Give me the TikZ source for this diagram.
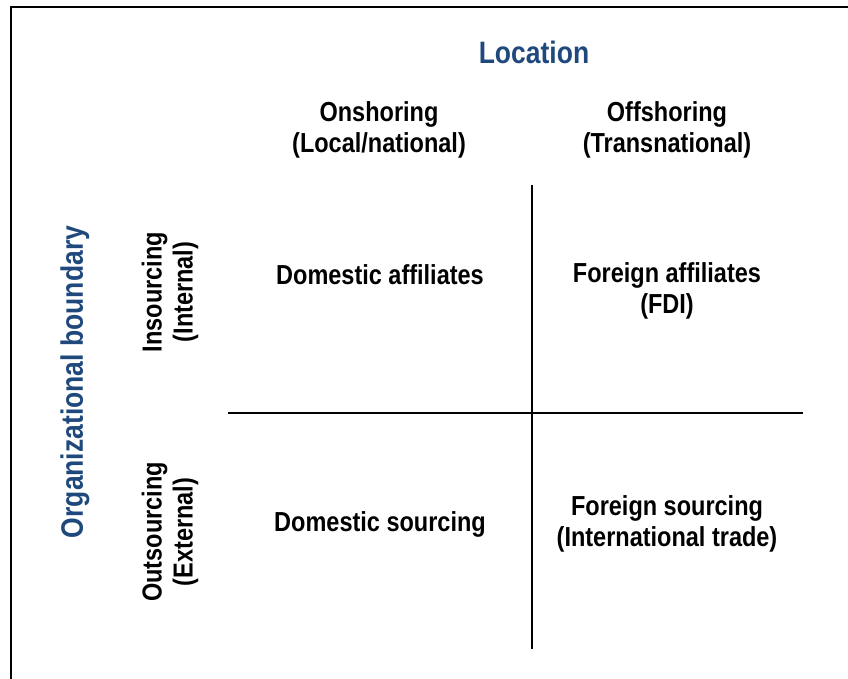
\documentclass[tikz,border=0pt]{standalone}
\usepackage{fontspec}
\setmainfont{Liberation Sans}
\definecolor{titleblue}{HTML}{1F497D}
\newcommand{\tl}[1]{\scalebox{1}[1.17]{#1}}
\begin{document}
\begin{tikzpicture}[x=1pt,y=-1pt,
  lbl/.style={font=\bfseries\fontsize{23.5}{31}\selectfont, align=center, inner sep=0pt, text=black},
  ttl/.style={font=\bfseries\fontsize{26.5}{31}\selectfont, inner sep=0pt, text=titleblue},
  grid/.style={line width=2pt, black},
  frame/.style={line width=2.5pt, black}]
\useasboundingbox (0,0) rectangle (848,679);
\coordinate (f0) at (11,679);
\coordinate (f1) at (11,7);
\coordinate (f2) at (848,7);
\draw[frame] (f0) -- (f1) -- (f2);
\node[ttl] (loc) at (534,52) {\tl{Location}};
\node[lbl] (on) at (379,129.5) {\tl{Onshoring}\\\tl{(Local/national)}};
\node[lbl] (off) at (667,129.5) {\tl{Offshoring}\\\tl{(Transnational)}};
\node[ttl, rotate=90] (org) at (75,382) {\tl{Organizational boundary}};
\node[lbl, rotate=90] (ins) at (170,292) {\tl{Insourcing}\\\tl{(Internal)}};
\node[lbl, rotate=90] (outs) at (170,532) {\tl{Outsourcing}\\\tl{(External)}};
\node[lbl] (da) at (380,275) {\tl{Domestic affiliates}};
\node[lbl] (fa) at (667,291) {\tl{Foreign affiliates}\\\tl{(FDI)}};
\node[lbl] (ds) at (380,524) {\tl{Domestic sourcing}};
\node[lbl] (fs) at (667,524) {\tl{Foreign sourcing}\\\tl{(International trade)}};
\coordinate (vt) at (532,185);
\coordinate (vb) at (532,649);
\coordinate (hl) at (228,413);
\coordinate (hr) at (803,413);
\draw[grid] (vt) -- (vb);
\draw[grid] (hl) -- (hr);
\end{tikzpicture}
\end{document}
